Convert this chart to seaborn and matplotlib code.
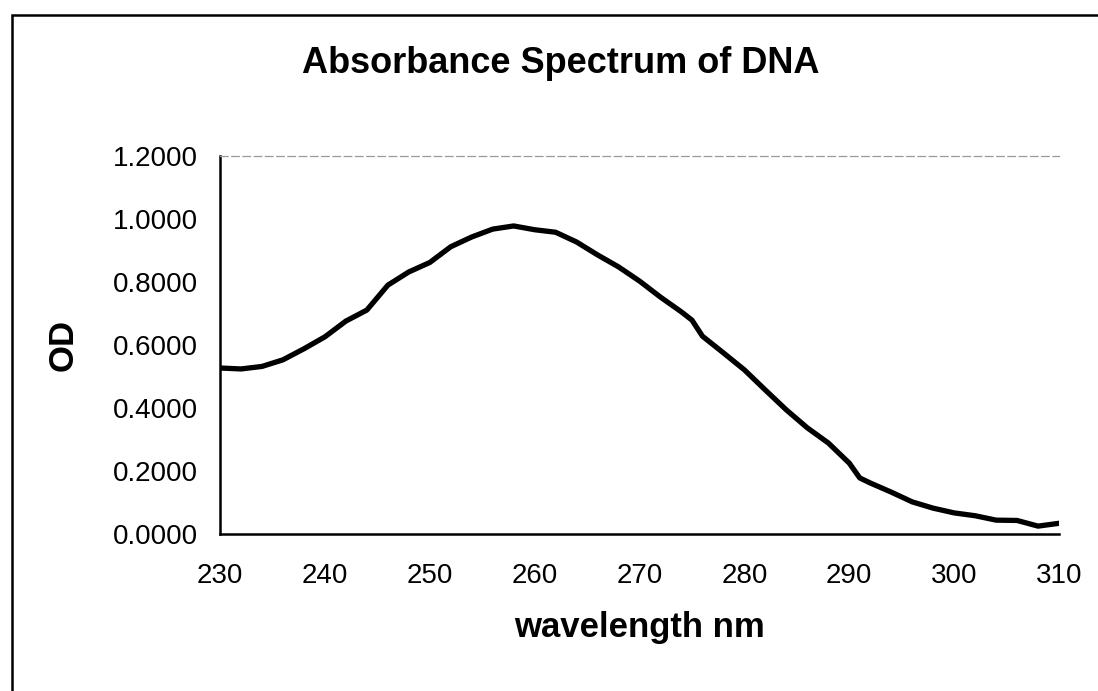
import seaborn as sns
import matplotlib.pyplot as plt
import matplotlib.patches as mpatches
import pandas as pd

# absorbance readings taken off the scanned chart
wavelength = [230, 232, 234, 236, 238, 240, 242, 244, 246, 248, 250, 252, 254, 256,
              258, 260, 262, 264, 266, 268, 270, 272, 274, 275, 276, 278, 280, 282,
              284, 286, 288, 290, 291, 292, 294, 296, 298, 300, 302, 304, 306, 308, 310]
od = [0.527, 0.524, 0.532, 0.553, 0.588, 0.626, 0.676, 0.711, 0.790, 0.832, 0.862,
      0.912, 0.943, 0.968, 0.978, 0.966, 0.958, 0.927, 0.886, 0.848, 0.803, 0.752,
      0.705, 0.679, 0.628, 0.575, 0.521, 0.457, 0.394, 0.337, 0.289, 0.225, 0.178,
      0.162, 0.133, 0.102, 0.082, 0.067, 0.058, 0.044, 0.043, 0.025, 0.034]
x_ticks = [230, 240, 250, 260, 270, 280, 290, 300, 310]
y_ticks = [0.0, 0.2, 0.4, 0.6, 0.8, 1.0, 1.2]

df = pd.DataFrame({'wavelength': wavelength, 'OD': od})

sns.set_style("white")
plt.rcParams['font.family'] = ['Liberation Sans', 'DejaVu Sans']
plt.rcParams['text.color'] = 'black'
plt.rcParams['axes.labelcolor'] = 'black'
plt.rcParams['xtick.color'] = 'black'
plt.rcParams['ytick.color'] = 'black'

fig = plt.figure(figsize=(10.98, 6.91), dpi=100)
ax = fig.add_axes([0.2004, 0.2272, 0.7641, 0.5470])

sns.lineplot(data=df, x='wavelength', y='OD', ax=ax, color='black', linewidth=3.8)

ax.set_xlim(230, 310)
ax.set_ylim(0, 1.2)
ax.set_xticks(x_ticks)
ax.set_yticks(y_ticks)
ax.set_xticklabels([str(t) for t in x_ticks], fontsize=20)
ax.set_yticklabels([f'{t:.4f}' for t in y_ticks], fontsize=20)
ax.tick_params(direction='out', length=7, width=1.5, color='black', pad=9)
ax.tick_params(axis='x', pad=14)

for side in ['left', 'bottom']:
    ax.spines[side].set_color('black')
    ax.spines[side].set_linewidth(1.8)
ax.spines['right'].set_visible(False)
ax.spines['top'].set_color('#999999')
ax.spines['top'].set_linewidth(0.9)
ax.spines['top'].set_linestyle((0, (6, 3)))

ax.set_xlabel('wavelength nm', fontsize=25, fontweight='bold', labelpad=16)
ax.set_ylabel('OD', fontsize=25, fontweight='bold', labelpad=24)
fig.text(0.511, 0.908, 'Absorbance Spectrum of DNA', fontsize=26, fontweight='bold',
         ha='center', va='center')

# chart frame (only left and top edges show in the scan)
fig.patches.append(mpatches.Rectangle((0.011, -0.2), 1.5, 1.178, transform=fig.transFigure,
                                      fill=False, edgecolor='black', linewidth=1.8))

plt.savefig('out.png', dpi=100)
